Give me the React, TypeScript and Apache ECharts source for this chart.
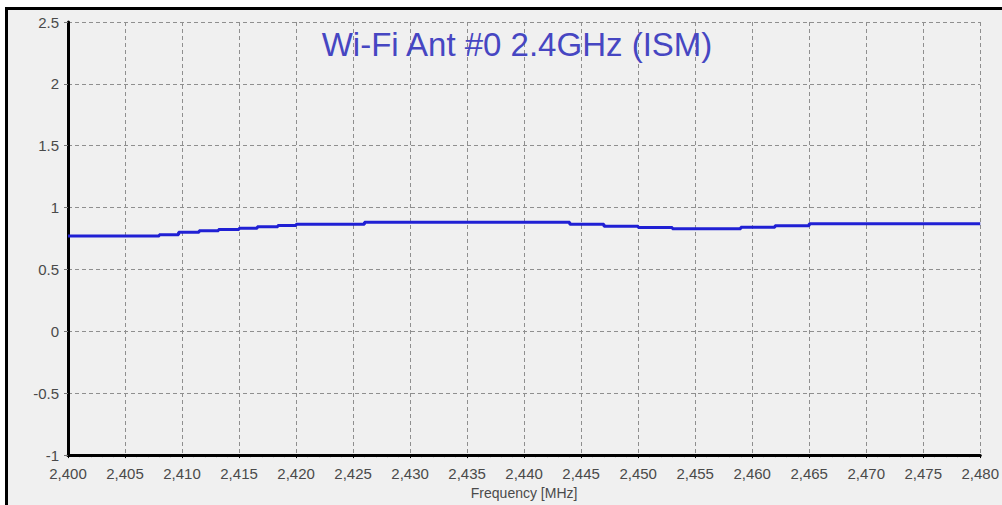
import React, { useEffect, useRef } from "react";
import * as echarts from "echarts";

const titleText = "Wi-Fi Ant #0 2.4GHz (ISM)";
const xAxisName = "Frequency [MHz]";
// step breakpoints (MHz) and the value held from each one
const freqs = [2400, 2408, 2409.7, 2411.5, 2413.2, 2415, 2416.6, 2418.4, 2420, 2426, 2444, 2447, 2450, 2453, 2459, 2462, 2465, 2480];
const gains = [0.77, 0.781, 0.8, 0.813, 0.824, 0.834, 0.845, 0.856, 0.866, 0.882, 0.866, 0.85, 0.84, 0.829, 0.842, 0.853, 0.869, 0.869];
const xMin = 2400;
const xMax = 2480;
const xStep = 5;
const yMin = -1;
const yMax = 2.5;
const yStep = 0.5;

const FONT = "'Liberation Sans', Arial, sans-serif";

export default function App() {
  const ref = useRef<HTMLDivElement>(null);
  useEffect(() => {
    if (!ref.current) return;
    const chart = echarts.init(ref.current, null, { renderer: "svg" });
    const data = freqs.map((f, i) => [f, gains[i]]);
    chart.setOption({
      animation: false,
      backgroundColor: "#f0f0f0",
      grid: { left: 60, top: 12, right: 19, bottom: 47 },
      graphic: [
        {
          type: "text",
          x: 509,
          y: 34,
          style: {
            text: titleText,
            fill: "#4646c2",
            font: "33px " + FONT,
            textAlign: "center",
            textVerticalAlign: "middle",
          },
          z: 100,
        },
      ],
      xAxis: {
        type: "value",
        min: xMin,
        max: xMax,
        interval: xStep,
        name: xAxisName,
        nameLocation: "middle",
        nameGap: 30,
        nameTextStyle: { color: "#4a4a4a", fontSize: 14, fontFamily: FONT },
        axisLine: { show: true, onZero: false, lineStyle: { color: "#000", width: 3 } },
        axisTick: { show: true, length: 3, lineStyle: { color: "#000" } },
        minorTick: { show: true, splitNumber: 5, length: 2, lineStyle: { color: "#000" } },
        axisLabel: {
          color: "#4a4a4a",
          fontSize: 15,
          fontFamily: FONT,
          margin: 11,
          formatter: (v: number) => v.toLocaleString("en-US"),
        },
        splitLine: { show: true, lineStyle: { color: "#8f8f8f", width: 1, type: [4, 3] } },
      },
      yAxis: {
        type: "value",
        min: yMin,
        max: yMax,
        interval: yStep,
        axisLine: { show: true, onZero: false, lineStyle: { color: "#000", width: 3 } },
        axisTick: { show: true, length: 4, lineStyle: { color: "#777" } },
        axisLabel: {
          color: "#4a4a4a",
          fontSize: 15,
          fontFamily: FONT,
          margin: 9,
        },
        splitLine: { show: true, lineStyle: { color: "#8f8f8f", width: 1, type: [4, 3] } },
      },
      series: [
        {
          type: "line",
          data,
          step: "end",
          showSymbol: false,
          symbol: "none",
          lineStyle: { color: "#2020d4", width: 3 },
          z: 5,
        },
      ],
    });
    return () => chart.dispose();
  }, []);
  return (
    <div style={{ position: "absolute", left: 0, top: 0, width: 1002, height: 505, background: "#fff" }}>
      <div
        style={{
          position: "absolute",
          left: 5,
          top: 7,
          width: 997,
          height: 498,
          borderTop: "3px solid #000",
          borderLeft: "3px solid #000",
          boxSizing: "border-box",
          background: "#f0f0f0",
        }}
      >
        <div ref={ref} style={{ width: 994, height: 495 }} />
      </div>
    </div>
  );
}
